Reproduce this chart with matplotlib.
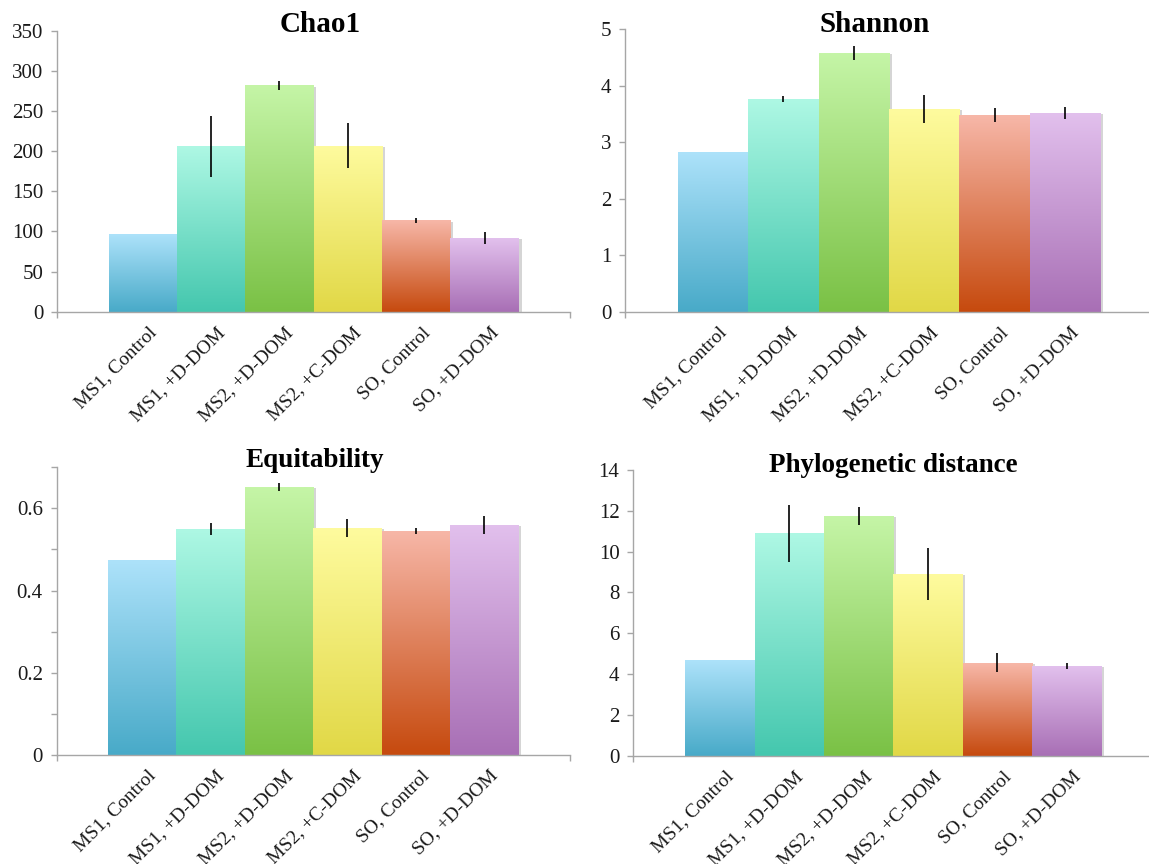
import matplotlib
matplotlib.use('Agg')
import matplotlib.pyplot as plt
import numpy as np
from matplotlib.colors import LinearSegmentedColormap, to_rgb
from matplotlib.transforms import blended_transform_factory, ScaledTranslation
import matplotlib.patheffects as pe

plt.rcParams['font.family'] = ['Liberation Serif', 'DejaVu Serif']

# data
labels = ['MS1, Control', 'MS1, +D-DOM', 'MS2, +D-DOM', 'MS2, +C-DOM', 'SO, Control', 'SO, +D-DOM']

chao1 = [97, 206, 282, 207, 114, 92]
chao1_err = [0, 38, 5.5, 28, 3, 7.5]

shannon = [2.83, 3.77, 4.58, 3.59, 3.48, 3.52]
shannon_err = [0, 0.05, 0.13, 0.245, 0.13, 0.10]

equit = [0.474, 0.550, 0.652, 0.552, 0.545, 0.560]
equit_err = [0, 0.015, 0.010, 0.022, 0.007, 0.0215]

phylo = [4.70, 10.90, 11.75, 8.91, 4.55, 4.40]
phylo_err = [0, 1.40, 0.45, 1.28, 0.46, 0.13]

# gradient colours (top, bottom) for each bar
top_colors = ['#ADE2FA', '#AEF8E4', '#C5F5A7', '#FEFB9E', '#F7B7A8', '#E2C0ED']
bottom_colors = ['#48AAC8', '#44C7AE', '#7AC145', '#E1D846', '#C64A0E', '#A86FB5']

axis_gray = '#A6A6A6'

fig = plt.figure(figsize=(11.49, 8.64), dpi=100)

# title, values, errors, [left, bottom, width, height], ymax, major ticks, minor ticks,
# title x, title pad (pt), title size
panels = [
    ('Chao1', chao1, chao1_err, [0.0499, 0.6392, 0.4462, 0.3252], 350, np.arange(0, 351, 50), None, 0.512, -0.7, 21),
    ('Shannon', shannon, shannon_err, [0.5440, 0.6392, 0.4595, 0.3269], 5, np.arange(0, 6, 1), None, 0.472, -1.7, 21),
    ('Equitability', equit, equit_err, [0.0493, 0.1262, 0.4465, 0.3330], 0.7, [0, 0.2, 0.4, 0.6], [0.1, 0.3, 0.5, 0.7], 0.503, 0, 19.5),
    ('Phylogenetic distance', phylo, phylo_err, [0.5512, 0.1253, 0.4525, 0.3307], 14, np.arange(0, 15, 2), None, 0.5, -1.7, 19.5),
]

x = np.arange(len(labels))

for title, vals, errs, pos, ymax, yticks, yminor, tx, tpad, tsize in panels:
    ax = fig.add_axes(pos)

    # white base bars carrying a soft shadow, gradient image on top
    bars = ax.bar(x, vals, width=1.0, color='white', edgecolor='none', zorder=1)
    for i, b in enumerate(bars):
        b.set_path_effects([pe.SimplePatchShadow(offset=(2, -1), shadow_rgbFace='#888888', alpha=0.35), pe.Normal()])
        cmap = LinearSegmentedColormap.from_list('g%d' % i, [to_rgb(bottom_colors[i]), to_rgb(top_colors[i])])
        grad = np.linspace(0, 1, 256).reshape(-1, 1)
        im = ax.imshow(grad, cmap=cmap, extent=[x[i] - 0.5, x[i] + 0.5, 0, vals[i]],
                       origin='lower', aspect='auto', zorder=2, interpolation='bilinear')
        im.set_clip_path(b)

    # error bars: plain black lines, no caps
    for i in range(len(vals)):
        if errs[i] > 0:
            ax.vlines(x[i], vals[i] - errs[i], vals[i] + errs[i], colors='black', linewidth=1.2, zorder=3)

    ax.set_xlim(-1.25, 6.25)
    ax.set_ylim(0, ymax)

    ax.set_yticks(yticks)
    ax.set_yticklabels(['%g' % t for t in yticks])
    if yminor is not None:
        ax.set_yticks(yminor, minor=True)
    ax.set_xticks([-1.25, 6.25])
    ax.set_xticklabels([])

    for s in ['top', 'right']:
        ax.spines[s].set_visible(False)
    for s in ['left', 'bottom']:
        ax.spines[s].set_color(axis_gray)
        ax.spines[s].set_linewidth(1.0)
    ax.tick_params(axis='both', which='both', direction='out', length=4, width=1.0,
                   color=axis_gray, labelsize=15, labelcolor='#1a1a1a', pad=6)

    # fixed y so the title sits just on the top of the axes like the original
    ax.set_title(title, fontsize=tsize, fontweight='bold', x=tx, y=1.0, pad=tpad)

    # rotated category labels
    trans = blended_transform_factory(ax.transData, ax.transAxes) + \
        ScaledTranslation(0.05, -0.12, fig.dpi_scale_trans)
    for i, lab in enumerate(labels):
        ax.text(x[i], 0, lab, transform=trans, rotation=45, rotation_mode='anchor',
                ha='right', va='top', fontsize=14, color='#1a1a1a')

plt.savefig('out.png', dpi=100)
